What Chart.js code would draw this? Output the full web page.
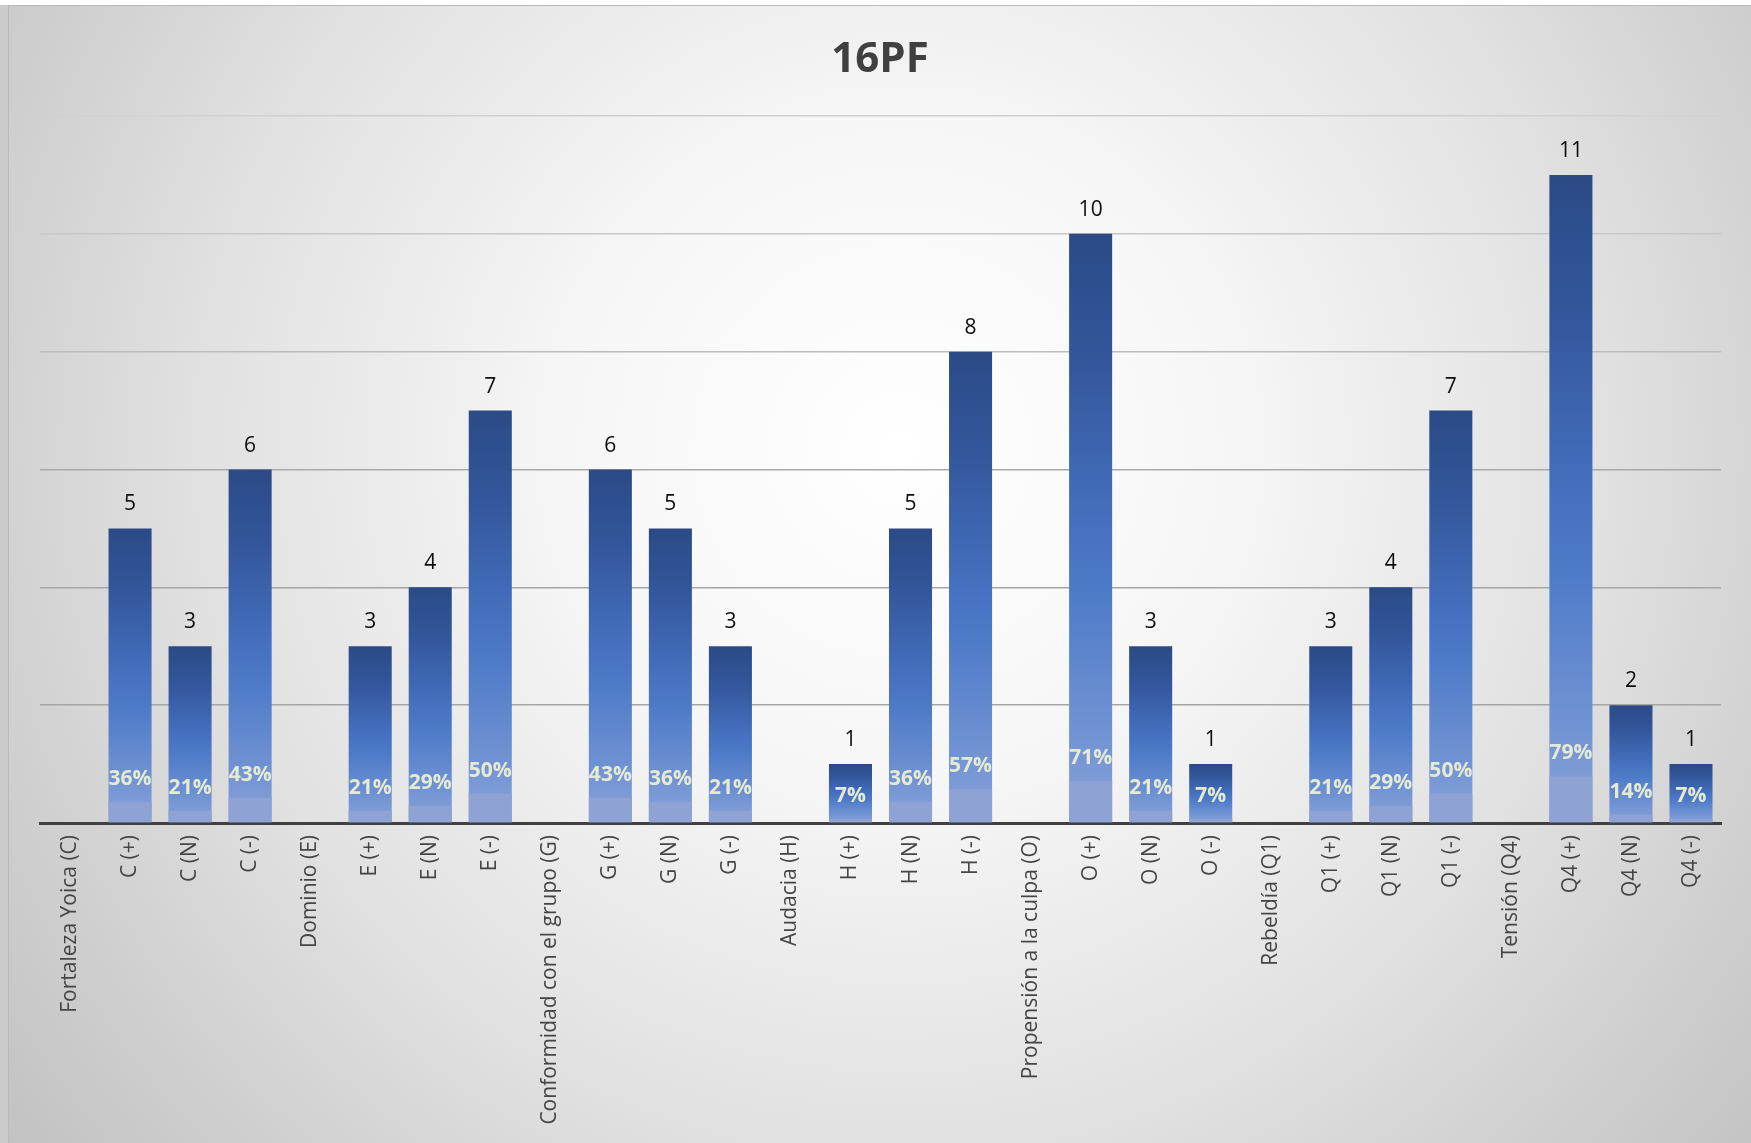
<!DOCTYPE html>
<html lang="es">
<head>
<meta charset="utf-8">
<title>16PF</title>
<script src="https://cdn.jsdelivr.net/npm/chart.js@4.4.1/dist/chart.umd.min.js"></script>
<style>
  html, body { margin: 0; padding: 0; background: #ffffff; }
  canvas { display: block; }
</style>
</head>
<body>
<canvas id="chart" width="1751" height="1143"></canvas>
<script>
// Factor headings and their high / normal / low sub-groups
const categories = [
  'Fortaleza Yoica (C)', 'C (+)', 'C (N)', 'C (-)',
  'Dominio (E)', 'E (+)', 'E (N)', 'E (-)',
  'Conformidad con el grupo (G)', 'G (+)', 'G (N)', 'G (-)',
  'Audacia (H)', 'H (+)', 'H (N)', 'H (-)',
  'Propensión a la culpa (O)', 'O (+)', 'O (N)', 'O (-)',
  'Rebeldía (Q1)', 'Q1 (+)', 'Q1 (N)', 'Q1 (-)',
  'Tensión (Q4)', 'Q4 (+)', 'Q4 (N)', 'Q4 (-)'
];

// Number of people in each sub-group (headings have no bar)
const counts = [
  null, 5, 3, 6,
  null, 3, 4, 7,
  null, 6, 5, 3,
  null, 1, 5, 8,
  null, 10, 3, 1,
  null, 3, 4, 7,
  null, 11, 2, 1
];

// Share of the group, as a fraction
const shares = [
  null, 0.36, 0.21, 0.43,
  null, 0.21, 0.29, 0.50,
  null, 0.43, 0.36, 0.21,
  null, 0.07, 0.36, 0.57,
  null, 0.71, 0.21, 0.07,
  null, 0.21, 0.29, 0.50,
  null, 0.79, 0.14, 0.07
];

const yTicks = [0, 2, 4, 6, 8, 10, 12];
const chartTitle = '16PF';

const W = 1751, H = 1143;

// Blue fill that darkens toward the top of each bar
function barGradient(context) {
  const chart = context.chart;
  const y = chart.scales && chart.scales.y;
  const v = context.raw;
  if (!y || v === null || v === undefined || !chart.chartArea) return '#4472c4';
  const top = y.getPixelForValue(v);
  const base = y.getPixelForValue(0);
  const g = chart.ctx.createLinearGradient(0, top, 0, base);
  g.addColorStop(0.00, '#2b4a86');
  g.addColorStop(0.22, '#33579c');
  g.addColorStop(0.50, '#4571c0');
  g.addColorStop(0.62, '#4f7cc9');
  g.addColorStop(0.82, '#6d90d1');
  g.addColorStop(1.00, '#88a2da');
  return g;
}

const gridColors = { 12: '#d0d0d0', 10: '#c7c7c7', 8: '#bcbcbc', 6: '#a9a9a9', 4: '#a5a5a5', 2: '#a5a5a5' };

// Page background, frame and title
const backdrop = {
  id: 'backdrop',
  beforeDraw(chart) {
    const c = chart.ctx;
    c.save();
    c.fillStyle = '#ffffff';
    c.fillRect(0, 0, W, H);
    c.fillStyle = '#cbcbcb';
    c.fillRect(0, 5, 8, H - 5);
    const cx = 900, cy = 450, r = 1130;
    const g = c.createRadialGradient(cx, cy, 0, cx, cy, r);
    g.addColorStop(0.00, '#ffffff');
    g.addColorStop(0.30, '#f6f6f6');
    g.addColorStop(0.42, '#eeeeee');
    g.addColorStop(0.62, '#e1e1e1');
    g.addColorStop(0.82, '#d0d0d0');
    g.addColorStop(1.00, '#c2c2c2');
    c.fillStyle = g;
    c.fillRect(8, 5, W - 8, H - 5);
    c.strokeStyle = '#b9b9b9';
    c.lineWidth = 1;
    c.beginPath();
    c.moveTo(8, 5.5); c.lineTo(W, 5.5);
    c.moveTo(8.5, 5); c.lineTo(8.5, H);
    c.stroke();

    c.fillStyle = '#404040';
    c.font = 'bold 42px "Open Sans"';
    c.textAlign = 'center';
    c.textBaseline = 'alphabetic';
    c.fillText(chartTitle, 880, 72);
    c.restore();
  }
};

// Count above each bar, percentage above each share bar
const barLabels = {
  id: 'barLabels',
  afterDatasetsDraw(chart) {
    const c = chart.ctx;
    c.save();
    c.textAlign = 'center';
    c.textBaseline = 'alphabetic';

    const countMeta = chart.getDatasetMeta(1);
    c.font = '21px "Open Sans"';
    c.fillStyle = '#0d0d0d';
    countMeta.data.forEach((bar, i) => {
      if (counts[i] === null) return;
      c.fillText(String(counts[i]), bar.x, bar.y - 18);
    });

    const shareMeta = chart.getDatasetMeta(0);
    c.font = 'bold 21px "Open Sans"';
    c.fillStyle = '#e5ebd3';
    shareMeta.data.forEach((bar, i) => {
      if (shares[i] === null) return;
      c.fillText(Math.round(shares[i] * 100) + '%', bar.x, bar.y - 17);
    });
    c.restore();
  }
};

new Chart(document.getElementById('chart'), {
  type: 'bar',
  data: {
    labels: categories,
    datasets: [
      {
        label: 'Porcentaje',
        data: shares,
        backgroundColor: '#8fa2d4',
        grouped: false,
        order: 0,
        barPercentage: 0.717,
        categoryPercentage: 1
      },
      {
        label: 'Frecuencia',
        data: counts,
        backgroundColor: barGradient,
        grouped: false,
        order: 1,
        barPercentage: 0.717,
        categoryPercentage: 1
      }
    ]
  },
  options: {
    responsive: false,
    animation: false,
    devicePixelRatio: 1,
    layout: { padding: { left: 40, right: 30, top: 116, bottom: 0 } },
    plugins: {
      legend: { display: false },
      title: { display: false },
      tooltip: { enabled: false }
    },
    scales: {
      x: {
        grid: { display: false, drawTicks: false },
        border: { display: true, color: '#404040', width: 3 },
        ticks: {
          autoSkip: false,
          maxRotation: 90,
          minRotation: 90,
          padding: 12,
          color: '#454545',
          font: { family: '"Open Sans"', size: 21 }
        },
        afterFit(axis) { axis.height = H - 823; }
      },
      y: {
        min: 0,
        max: 12,
        afterBuildTicks(axis) { axis.ticks = yTicks.map(v => ({ value: v })); },
        ticks: { display: false },
        border: { display: false },
        grid: {
          drawTicks: false,
          lineWidth: 1.5,
          color: (ctx) => (ctx.tick && gridColors[ctx.tick.value]) || 'rgba(0,0,0,0)'
        },
        afterFit(axis) { axis.width = 0; }
      }
    }
  },
  plugins: [backdrop, barLabels]
});
</script>
</body>
</html>
